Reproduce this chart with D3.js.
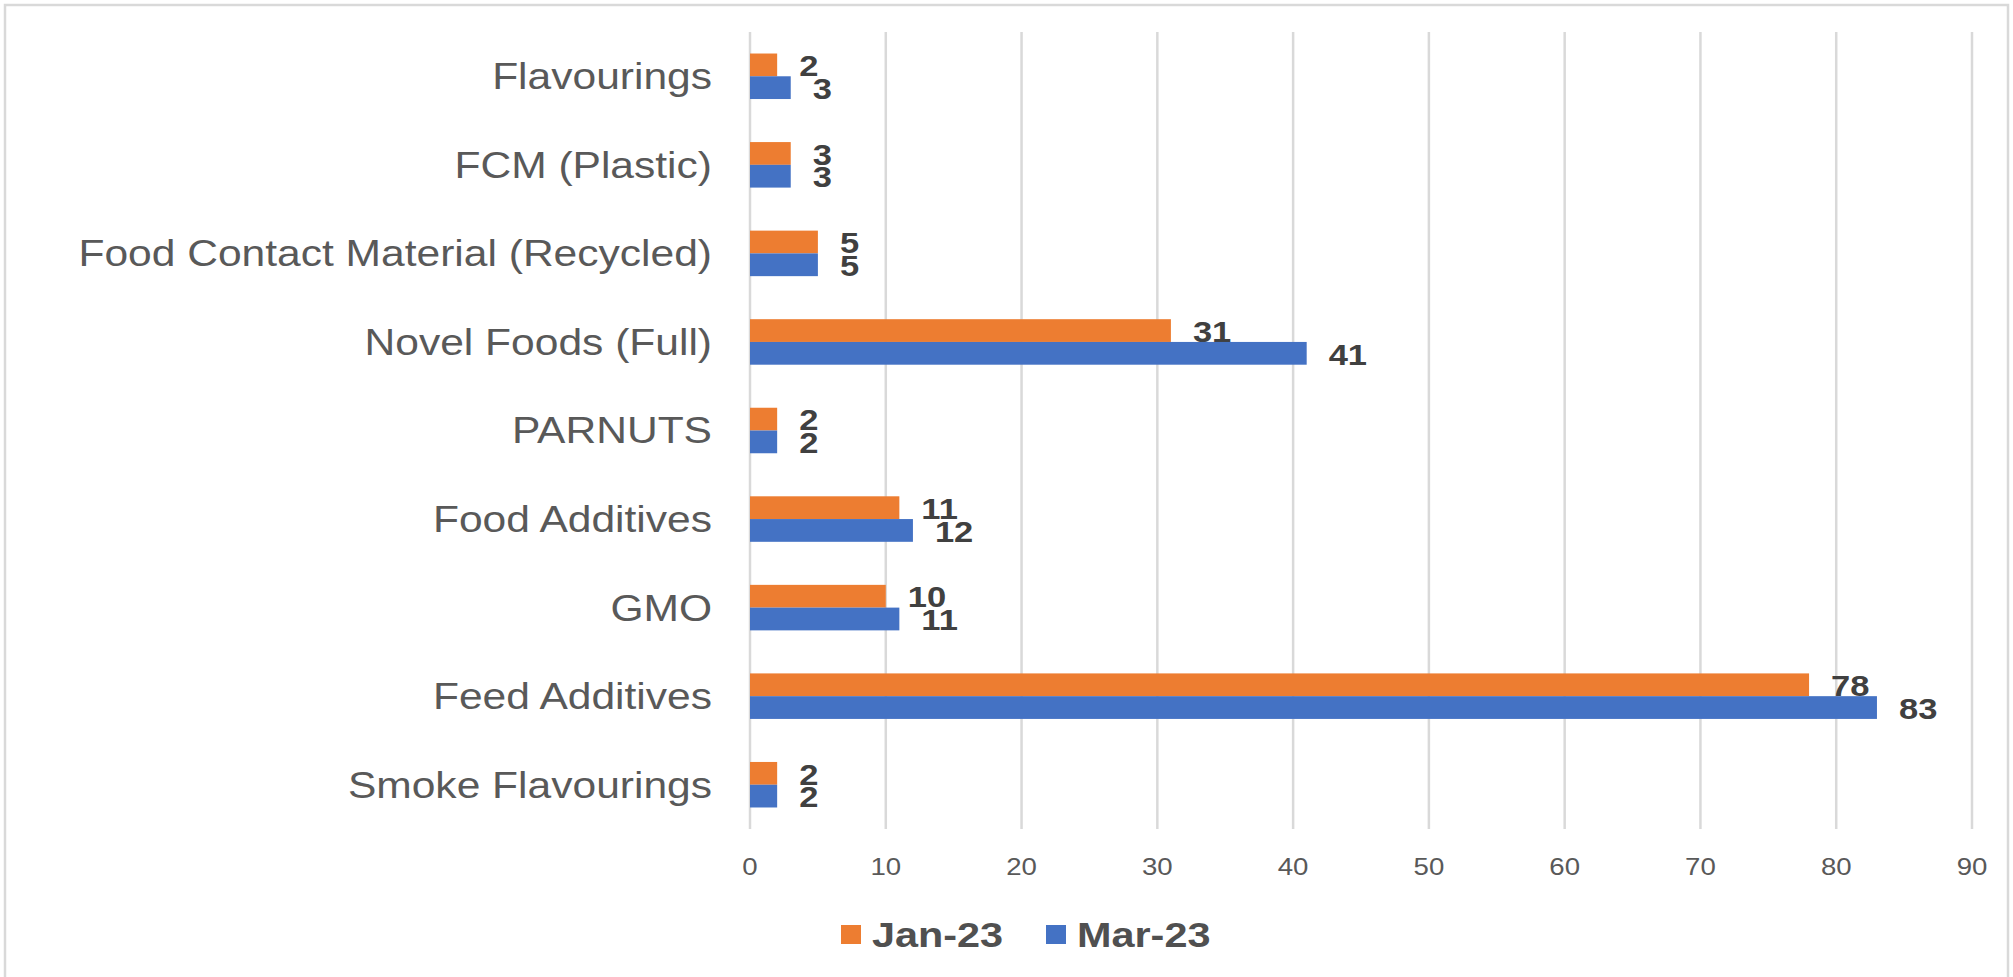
<!DOCTYPE html>
<html>
<head>
<meta charset="utf-8">
<script src="https://cdn.jsdelivr.net/npm/d3@7"></script>
<style>
  html, body { margin: 0; padding: 0; background: #ffffff; }
  svg { display: block; }
  text { font-family: "Liberation Sans", Arial, sans-serif; }
</style>
</head>
<body>
<svg id="chart" width="2013" height="977"></svg>
<script>
// Application counts per category, top to bottom
const categories = [
  "Flavourings",
  "FCM (Plastic)",
  "Food Contact Material (Recycled)",
  "Novel Foods (Full)",
  "PARNUTS",
  "Food Additives",
  "GMO",
  "Feed Additives",
  "Smoke Flavourings"
];
const jan23 = [2, 3, 5, 31, 2, 11, 10, 78, 2];
const mar23 = [3, 3, 5, 41, 2, 12, 11, 83, 2];
const seriesNames = ["Jan-23", "Mar-23"];
const seriesColors = ["#ED7D31", "#4472C4"];
const xTicks = [0, 10, 20, 30, 40, 50, 60, 70, 80, 90];

const svg = d3.select("#chart");
const W = 2013, H = 977;
const stretch = 1.15; // horizontal stretch applied to all text glyphs

// chart frame
svg.append("rect")
  .attr("x", 5).attr("y", 5)
  .attr("width", W - 10).attr("height", H + 20)
  .attr("fill", "#ffffff")
  .attr("stroke", "#D9D9D9").attr("stroke-width", 2.5);

const plot = { left: 750, right: 1972, top: 32, bottom: 829 };

const x = d3.scaleLinear().domain([0, 90]).range([plot.left, plot.right]);
const y = d3.scaleBand().domain(categories).range([plot.top, plot.bottom]).paddingInner(0).paddingOuter(0);
const barH = y.bandwidth() * 0.257;

function stretchedText(sel, tx, ty) {
  return sel.attr("transform", `translate(${tx},${ty}) scale(${stretch},1)`);
}

// vertical gridlines
svg.append("g").selectAll("line")
  .data(xTicks)
  .join("line")
  .attr("x1", d => x(d)).attr("x2", d => x(d))
  .attr("y1", plot.top).attr("y2", plot.bottom)
  .attr("stroke", "#D9D9D9").attr("stroke-width", 2.5);

// x tick labels
svg.append("g").selectAll("text")
  .data(xTicks)
  .join("text")
  .each(function(d) { stretchedText(d3.select(this), x(d), 867); })
  .attr("text-anchor", "middle")
  .attr("dominant-baseline", "central")
  .attr("font-size", 24)
  .attr("fill", "#595959")
  .text(d => d);

// category labels
svg.append("g").selectAll("text")
  .data(categories)
  .join("text")
  .each(function(d) { stretchedText(d3.select(this), 712, y(d) + y.bandwidth() / 2); })
  .attr("text-anchor", "end")
  .attr("dominant-baseline", "central")
  .attr("font-size", 37)
  .attr("fill", "#595959")
  .text(d => d);

// bars and value labels
const series = [jan23, mar23];
series.forEach((vals, si) => {
  const rows = categories.map((c, i) => ({ c, v: vals[i] }));
  const yPos = d => y(d.c) + y.bandwidth() / 2 - barH + si * barH;
  svg.append("g").selectAll("rect")
    .data(rows)
    .join("rect")
    .attr("x", x(0))
    .attr("y", yPos)
    .attr("width", d => x(d.v) - x(0))
    .attr("height", barH)
    .attr("fill", seriesColors[si]);
  svg.append("g").selectAll("text")
    .data(rows)
    .join("text")
    .each(function(d) { stretchedText(d3.select(this), x(d.v) + 22, yPos(d) + barH / 2 + 1); })
    .attr("dominant-baseline", "central")
    .attr("font-size", 30)
    .attr("font-weight", "bold")
    .attr("fill", "#404040")
    .text(d => d.v);
});

// legend
const legendItems = [
  { name: seriesNames[0], color: seriesColors[0], x: 841 },
  { name: seriesNames[1], color: seriesColors[1], x: 1046 }
];
const lg = svg.append("g");
legendItems.forEach(it => {
  lg.append("rect")
    .attr("x", it.x).attr("y", 925)
    .attr("width", 20).attr("height", 19)
    .attr("fill", it.color);
  stretchedText(lg.append("text"), it.x + 31, 934)
    .attr("dominant-baseline", "central")
    .attr("font-size", 36)
    .attr("font-weight", "bold")
    .attr("fill", "#505050")
    .text(it.name);
});
</script>
</body>
</html>
